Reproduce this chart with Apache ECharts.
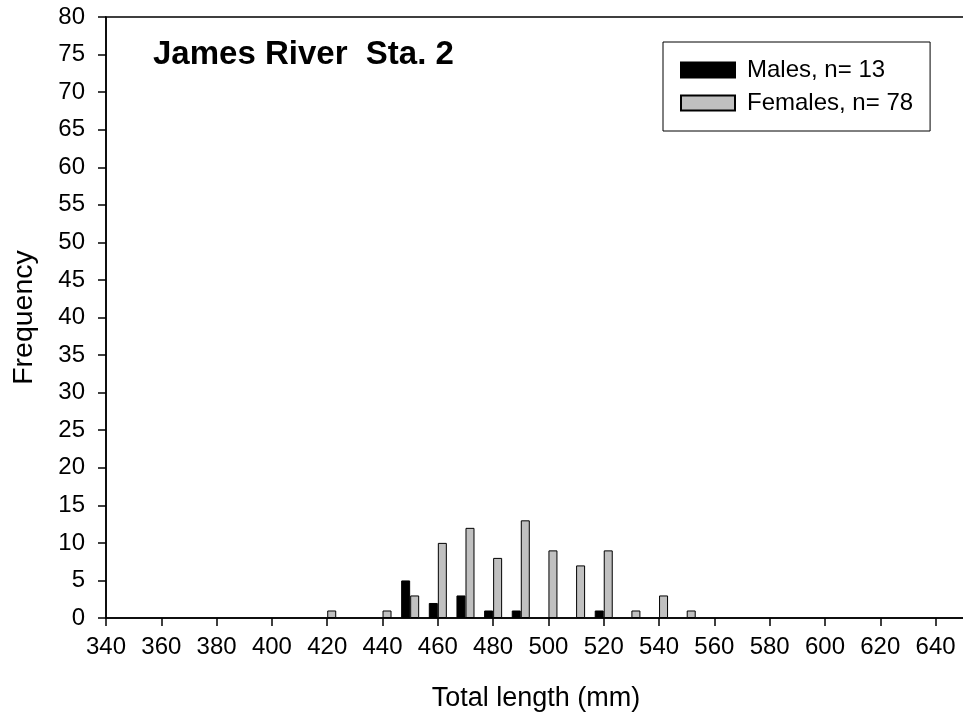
<!DOCTYPE html>
<html><head><meta charset="utf-8">
<script src="https://cdn.jsdelivr.net/npm/echarts@6/dist/echarts.min.js"></script>
<style>html,body{margin:0;padding:0;background:#fff}#c{width:963px;height:721px}</style>
</head><body><div id="c"></div>
<script>
const maleLengths = [450, 460, 470, 480, 490, 520];
const maleCounts = [5, 2, 3, 1, 1, 1];
const femaleLengths = [420, 440, 450, 460, 470, 480, 490, 500, 510, 520, 530, 540, 550];
const femaleCounts = [1, 1, 3, 10, 12, 8, 13, 9, 7, 9, 1, 3, 1];
const seriesNames = ['Males, n= 13', 'Females, n= 78'];
const titleText = 'James River  Sta. 2';

const F = '"Liberation Sans", Arial, sans-serif';
const chart = echarts.init(document.getElementById('c'));
chart.setOption({
  animation: false,
  backgroundColor: '#fff',
  title: {text: titleText, left: 153, top: 38, padding: 0,
    textStyle: {fontFamily: F, fontSize: 33, fontWeight: 'bold', color: '#000'}},
  legend: {
    left: 663, top: 42, orient: 'vertical',
    borderColor: '#000', borderWidth: 1, padding: [16, 17, 16, 17],
    itemWidth: 54, itemHeight: 15, itemGap: 9,
    icon: 'rect',
    textStyle: {fontFamily: F, fontSize: 24, color: '#000', padding: [0, 0, 0, 7]},
    data: seriesNames
  },
  grid: {left: 106, top: 17, right: -3, bottom: 103, outerBoundsMode: 'none',
    show: true, borderColor: '#000', borderWidth: 1.5},
  xAxis: {
    type: 'value', min: 340, max: 651, interval: 20,
    name: 'Total length (mm)', nameLocation: 'middle', nameGap: 67,
    nameTextStyle: {fontFamily: F, fontSize: 27, color: '#000'},
    axisLine: {lineStyle: {color: '#000', width: 1.5}},
    axisTick: {show: true, length: 8, lineStyle: {color: '#000', width: 1.5}},
    axisLabel: {fontFamily: F, fontSize: 24, color: '#000', margin: 17,
      formatter: v => v > 640 ? '' : v},
    splitLine: {show: false}
  },
  yAxis: {
    type: 'value', min: 0, max: 80, interval: 5,
    name: 'Frequency', nameLocation: 'middle', nameGap: 67,
    nameTextStyle: {fontFamily: F, fontSize: 28.5, color: '#000'},
    axisLine: {show: true, lineStyle: {color: '#000', width: 1.5}},
    axisTick: {show: true, length: 8, lineStyle: {color: '#000', width: 1.5}},
    axisLabel: {fontFamily: F, fontSize: 24, color: '#000', margin: 21},
    splitLine: {show: false}
  },
  series: [
    {name: seriesNames[0], type: 'bar', barWidth: 9, barGap: '0%',
     itemStyle: {color: '#000', borderColor: '#000', borderWidth: 1},
     data: maleLengths.map((x, i) => [x - 0.01, maleCounts[i]])},
    {name: seriesNames[1], type: 'bar', barWidth: 9, barGap: '0%',
     itemStyle: {color: '#c0c0c0', borderColor: '#000', borderWidth: 1},
     data: femaleLengths.map((x, i) => [x, femaleCounts[i]])}
  ]
});
</script></body></html>
